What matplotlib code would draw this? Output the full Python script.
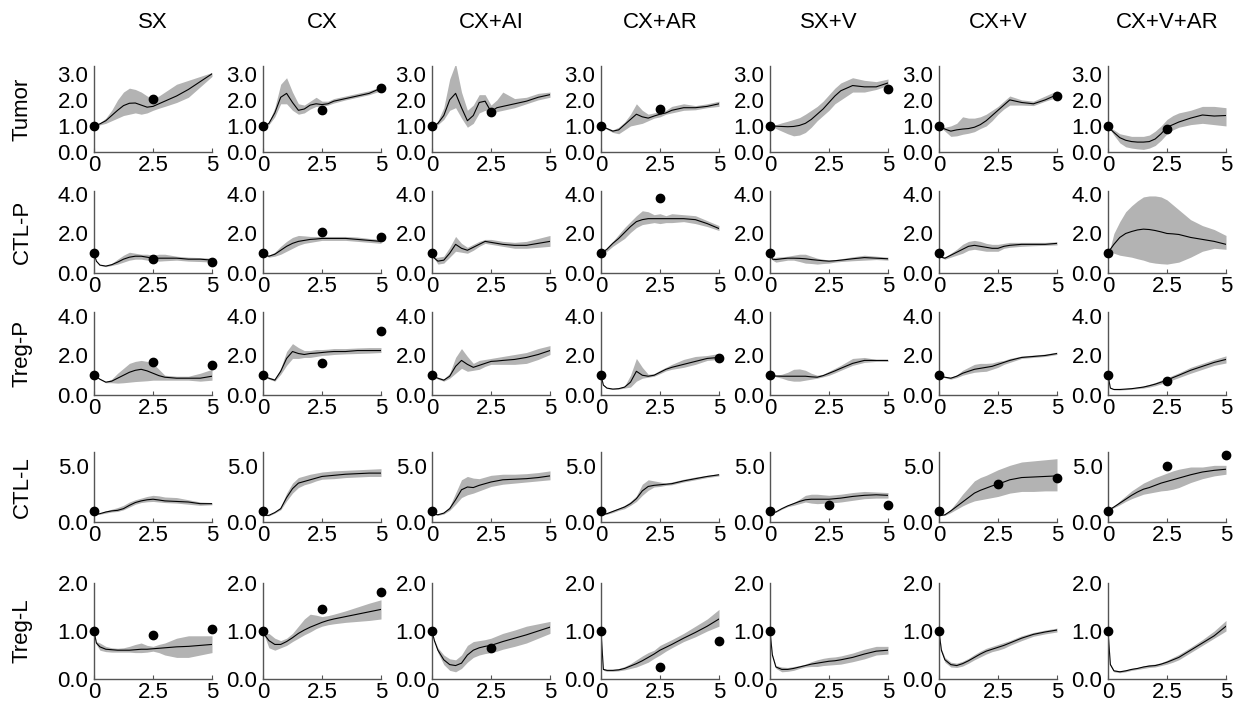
import matplotlib.pyplot as plt

plt.rcParams['font.family'] = ['Liberation Sans', 'DejaVu Sans']

conditions = ["SX", "CX", "CX+AI", "CX+AR", "SX+V", "CX+V", "CX+V+AR"]
cell_types = ["Tumor", "CTL-P", "Treg-P", "CTL-L", "Treg-L"]

# time points of the model curves
t = [0, 0.1, 0.25, 0.5, 0.75, 1.0, 1.25, 1.5, 1.75, 2.0, 2.25, 2.5, 2.75, 3.0, 3.5, 4.0, 4.5, 5.0]

# ---- Tumor ----
tumor_mid = [
    [1.0, 1.03, 1.08, 1.2, 1.4, 1.6, 1.78, 1.87, 1.88, 1.8, 1.72, 1.75, 1.85, 1.95, 2.15, 2.4, 2.7, 3.0],
    [1.0, 1.02, 1.1, 1.5, 2.1, 2.25, 1.9, 1.6, 1.65, 1.8, 1.85, 1.82, 1.85, 1.95, 2.05, 2.15, 2.25, 2.45],
    [1.0, 1.02, 1.1, 1.4, 2.0, 2.25, 1.7, 1.2, 1.4, 1.9, 1.95, 1.55, 1.7, 1.75, 1.85, 1.95, 2.1, 2.2],
    [1.0, 0.97, 0.9, 0.8, 0.85, 1.05, 1.25, 1.45, 1.35, 1.3, 1.38, 1.45, 1.5, 1.6, 1.7, 1.7, 1.75, 1.85],
    [1.0, 1.0, 0.99, 0.98, 0.97, 0.98, 1.02, 1.1, 1.25, 1.45, 1.65, 1.9, 2.15, 2.35, 2.55, 2.5, 2.5, 2.65],
    [1.0, 0.95, 0.88, 0.8, 0.85, 0.88, 0.9, 0.95, 1.05, 1.2, 1.4, 1.6, 1.8, 2.0, 1.9, 1.85, 2.0, 2.2],
    [1.0, 0.88, 0.75, 0.55, 0.45, 0.4, 0.38, 0.38, 0.4, 0.5, 0.7, 0.95, 1.05, 1.15, 1.3, 1.42, 1.38, 1.4],
]
tumor_lo = [
    [1.0, 1.02, 1.04, 1.1, 1.2, 1.3, 1.4, 1.45, 1.5, 1.45, 1.5, 1.6, 1.68, 1.75, 1.9, 2.1, 2.5, 2.9],
    [1.0, 1.01, 1.05, 1.35, 1.85, 1.85, 1.6, 1.45, 1.5, 1.65, 1.75, 1.75, 1.8, 1.88, 2.0, 2.1, 2.2, 2.35],
    [1.0, 1.01, 1.05, 1.25, 1.6, 1.7, 1.3, 0.95, 1.1, 1.5, 1.6, 1.45, 1.55, 1.6, 1.7, 1.85, 2.0, 2.1],
    [1.0, 0.96, 0.87, 0.75, 0.7, 0.85, 1.0, 1.05, 1.1, 1.2, 1.3, 1.35, 1.45, 1.5, 1.6, 1.62, 1.7, 1.75],
    [1.0, 0.97, 0.9, 0.8, 0.7, 0.62, 0.65, 0.75, 0.95, 1.2, 1.4, 1.6, 1.85, 2.0, 2.3, 2.3, 2.4, 2.55],
    [1.0, 0.92, 0.8, 0.6, 0.62, 0.68, 0.72, 0.78, 0.9, 1.0, 1.2, 1.45, 1.65, 1.8, 1.8, 1.78, 1.95, 2.1],
    [1.0, 0.85, 0.65, 0.35, 0.2, 0.15, 0.12, 0.1, 0.15, 0.25, 0.45, 0.7, 0.85, 0.95, 1.05, 1.1, 1.05, 1.0],
]
tumor_hi = [
    [1.0, 1.05, 1.12, 1.3, 1.6, 2.0, 2.3, 2.45, 2.4, 2.3, 2.15, 2.05, 2.15, 2.3, 2.6, 2.75, 2.9, 3.05],
    [1.0, 1.03, 1.15, 1.7, 2.6, 2.85, 2.3, 1.85, 1.8, 1.95, 2.1, 1.95, 1.95, 2.05, 2.15, 2.25, 2.35, 2.5],
    [1.0, 1.03, 1.2, 1.7, 2.8, 3.4, 2.3, 1.6, 1.8, 2.2, 2.2, 1.8, 2.0, 2.3, 2.05, 2.1, 2.25, 2.3],
    [1.0, 0.98, 0.93, 0.85, 0.95, 1.15, 1.45, 1.85, 1.6, 1.45, 1.5, 1.55, 1.6, 1.75, 1.85, 1.78, 1.85, 1.95],
    [1.0, 1.02, 1.05, 1.12, 1.18, 1.25, 1.32, 1.45, 1.6, 1.75, 1.95, 2.2, 2.45, 2.65, 2.85, 2.75, 2.7, 2.8],
    [1.0, 0.97, 0.95, 1.0, 1.1, 1.35, 1.3, 1.3, 1.35, 1.45, 1.6, 1.75, 1.95, 2.15, 2.0, 1.95, 2.15, 2.35],
    [1.0, 0.92, 0.85, 0.7, 0.65, 0.6, 0.6, 0.6, 0.65, 0.8, 1.0, 1.25, 1.4, 1.5, 1.6, 1.75, 1.75, 1.7],
]
tumor_dots = [
    [(0, 1.0), (2.5, 2.05)],
    [(0, 1.0), (2.5, 1.6), (5, 2.45)],
    [(0, 1.0), (2.5, 1.55)],
    [(0, 1.0), (2.5, 1.65)],
    [(0, 1.0), (5, 2.4)],
    [(0, 1.0), (5, 2.15)],
    [(0, 1.0), (2.5, 0.9)],
]

# ---- CTL-P ----
ctlp_mid = [
    [1.0, 0.6, 0.4, 0.35, 0.42, 0.55, 0.7, 0.8, 0.85, 0.85, 0.8, 0.75, 0.75, 0.75, 0.75, 0.7, 0.7, 0.65],
    [1.0, 0.9, 0.85, 0.95, 1.15, 1.35, 1.5, 1.6, 1.65, 1.7, 1.72, 1.75, 1.75, 1.75, 1.75, 1.7, 1.65, 1.6],
    [1.0, 0.75, 0.6, 0.65, 1.0, 1.45, 1.25, 1.15, 1.3, 1.45, 1.6, 1.55, 1.5, 1.45, 1.4, 1.4, 1.5, 1.6],
    [1.0, 1.08, 1.2, 1.5, 1.75, 2.05, 2.35, 2.6, 2.7, 2.75, 2.75, 2.75, 2.75, 2.75, 2.75, 2.7, 2.5, 2.25],
    [1.0, 0.7, 0.68, 0.72, 0.75, 0.75, 0.74, 0.72, 0.68, 0.65, 0.62, 0.6, 0.62, 0.65, 0.72, 0.78, 0.75, 0.72],
    [1.0, 0.8, 0.75, 0.9, 1.05, 1.2, 1.35, 1.4, 1.35, 1.3, 1.25, 1.25, 1.35, 1.4, 1.45, 1.45, 1.45, 1.5],
    [1.0, 1.2, 1.45, 1.8, 2.0, 2.1, 2.18, 2.22, 2.2, 2.15, 2.08, 2.0, 1.98, 1.95, 1.8, 1.7, 1.6, 1.45],
]
ctlp_lo = [
    [1.0, 0.58, 0.38, 0.32, 0.38, 0.45, 0.55, 0.65, 0.7, 0.7, 0.65, 0.6, 0.6, 0.62, 0.65, 0.6, 0.58, 0.55],
    [1.0, 0.88, 0.8, 0.85, 0.95, 1.1, 1.25, 1.4, 1.5, 1.55, 1.6, 1.65, 1.65, 1.65, 1.65, 1.6, 1.55, 1.5],
    [1.0, 0.72, 0.45, 0.5, 0.8, 1.1, 1.05, 1.0, 1.15, 1.35, 1.5, 1.45, 1.4, 1.35, 1.25, 1.25, 1.3, 1.35],
    [1.0, 1.05, 1.1, 1.35, 1.55, 1.75, 2.05, 2.3, 2.45, 2.5, 2.55, 2.5, 2.55, 2.55, 2.6, 2.5, 2.35, 2.15],
    [1.0, 0.65, 0.55, 0.6, 0.65, 0.65, 0.58, 0.5, 0.48, 0.45, 0.48, 0.5, 0.55, 0.58, 0.62, 0.65, 0.68, 0.65],
    [1.0, 0.78, 0.7, 0.8, 0.9, 1.0, 1.15, 1.2, 1.15, 1.1, 1.1, 1.1, 1.25, 1.3, 1.35, 1.38, 1.4, 1.42],
    [1.0, 1.1, 1.0, 0.9, 0.85, 0.8, 0.72, 0.65, 0.55, 0.5, 0.47, 0.45, 0.5, 0.55, 0.8, 1.1, 1.25, 1.2],
]
ctlp_hi = [
    [1.0, 0.62, 0.42, 0.38, 0.48, 0.7, 0.9, 1.05, 1.0, 0.95, 0.95, 0.9, 0.95, 0.95, 0.85, 0.8, 0.78, 0.75],
    [1.0, 0.92, 0.9, 1.05, 1.35, 1.6, 1.8, 1.9, 1.88, 1.85, 1.85, 1.85, 1.85, 1.85, 1.85, 1.82, 1.75, 1.7],
    [1.0, 0.8, 0.8, 0.85, 1.3, 1.85, 1.5, 1.3, 1.45, 1.6, 1.7, 1.7, 1.65, 1.6, 1.55, 1.6, 1.75, 1.9],
    [1.0, 1.1, 1.3, 1.6, 1.95, 2.3, 2.6, 2.9, 3.15, 3.1, 2.95, 3.0, 2.9, 3.0, 2.95, 2.9, 2.65, 2.4],
    [1.0, 0.75, 0.8, 0.82, 0.85, 0.9, 0.95, 0.95, 0.85, 0.75, 0.7, 0.65, 0.68, 0.72, 0.82, 0.9, 0.85, 0.8],
    [1.0, 0.82, 0.8, 1.0, 1.2, 1.45, 1.6, 1.65, 1.6, 1.5, 1.45, 1.45, 1.5, 1.55, 1.55, 1.55, 1.55, 1.58],
    [1.0, 1.3, 2.0, 2.6, 3.1, 3.4, 3.65, 3.85, 3.9, 3.9, 3.85, 3.7, 3.45, 3.2, 2.7, 2.4, 2.2, 1.9],
]
ctlp_dots = [
    [(0, 1.0), (2.5, 0.7), (5, 0.55)],
    [(0, 1.0), (2.5, 2.1), (5, 1.8)],
    [(0, 1.0)],
    [(0, 1.0), (2.5, 3.8)],
    [(0, 1.0)],
    [(0, 1.0)],
    [(0, 1.0)],
]

# ---- Treg-P ----
tregp_mid = [
    [1.0, 0.92, 0.8, 0.65, 0.7, 0.85, 1.0, 1.15, 1.25, 1.3, 1.22, 1.1, 0.98, 0.9, 0.85, 0.85, 0.85, 0.95],
    [1.0, 0.92, 0.85, 0.75, 1.2, 1.85, 2.2, 2.1, 2.05, 2.1, 2.12, 2.15, 2.18, 2.2, 2.2, 2.25, 2.25, 2.25],
    [1.0, 0.92, 0.85, 0.75, 0.95, 1.45, 1.75, 1.55, 1.4, 1.5, 1.6, 1.7, 1.72, 1.75, 1.8, 1.9, 2.05, 2.25],
    [1.0, 0.5, 0.35, 0.3, 0.32, 0.4, 0.65, 1.2, 1.0, 0.95, 1.0, 1.15, 1.3, 1.4, 1.55, 1.7, 1.85, 1.9],
    [1.0, 0.98, 0.96, 0.95, 0.95, 0.95, 0.95, 0.95, 0.92, 0.9, 0.98, 1.1, 1.22, 1.35, 1.6, 1.75, 1.75, 1.75],
    [1.0, 0.95, 0.9, 0.85, 0.95, 1.1, 1.2, 1.3, 1.35, 1.4, 1.45, 1.55, 1.65, 1.75, 1.9, 1.95, 2.0, 2.1],
    [1.0, 0.35, 0.28, 0.28, 0.3, 0.32, 0.36, 0.4, 0.47, 0.55, 0.65, 0.75, 0.88, 1.0, 1.25, 1.45, 1.65, 1.8],
]
tregp_lo = [
    [1.0, 0.9, 0.78, 0.62, 0.62, 0.6, 0.62, 0.65, 0.68, 0.7, 0.72, 0.75, 0.75, 0.75, 0.75, 0.75, 0.7, 0.75],
    [1.0, 0.9, 0.8, 0.7, 1.05, 1.5, 1.85, 1.85, 1.9, 1.9, 1.95, 2.0, 2.02, 2.05, 2.08, 2.1, 2.12, 2.15],
    [1.0, 0.9, 0.8, 0.7, 0.85, 1.1, 1.35, 1.2, 1.25, 1.3, 1.45, 1.55, 1.55, 1.55, 1.55, 1.6, 1.8, 2.05],
    [1.0, 0.48, 0.33, 0.28, 0.3, 0.35, 0.4, 0.7, 0.85, 0.9, 0.95, 1.08, 1.22, 1.3, 1.4, 1.55, 1.75, 1.8],
    [1.0, 0.97, 0.92, 0.85, 0.75, 0.7, 0.7, 0.75, 0.8, 0.85, 0.92, 1.0, 1.12, 1.25, 1.5, 1.65, 1.7, 1.7],
    [1.0, 0.93, 0.87, 0.8, 0.88, 1.0, 1.08, 1.15, 1.18, 1.2, 1.3, 1.4, 1.55, 1.65, 1.85, 1.9, 1.95, 2.05],
    [1.0, 0.33, 0.26, 0.25, 0.27, 0.29, 0.32, 0.35, 0.4, 0.47, 0.56, 0.65, 0.77, 0.88, 1.1, 1.3, 1.5, 1.62],
]
tregp_hi = [
    [1.0, 0.94, 0.82, 0.68, 0.8, 1.1, 1.35, 1.6, 1.7, 1.75, 1.7, 1.6, 1.3, 1.0, 0.95, 0.95, 1.1, 1.3],
    [1.0, 0.94, 0.9, 0.82, 1.35, 2.2, 2.6, 2.4, 2.25, 2.25, 2.3, 2.3, 2.32, 2.35, 2.35, 2.38, 2.4, 2.4],
    [1.0, 0.94, 0.9, 0.82, 1.1, 1.9, 2.35, 1.95, 1.6, 1.75, 1.8, 1.85, 1.9, 1.95, 2.05, 2.15, 2.35, 2.5],
    [1.0, 0.52, 0.37, 0.32, 0.35, 0.45, 1.0, 1.85, 1.4, 1.05, 1.08, 1.25, 1.4, 1.55, 1.8, 1.95, 2.0, 2.1],
    [1.0, 0.99, 1.0, 1.05, 1.15, 1.3, 1.32, 1.25, 1.1, 1.0, 1.05, 1.2, 1.35, 1.5, 1.85, 1.9, 1.8, 1.8],
    [1.0, 0.97, 0.93, 0.9, 1.02, 1.25, 1.4, 1.55, 1.6, 1.6, 1.62, 1.7, 1.75, 1.85, 1.97, 2.02, 2.07, 2.17],
    [1.0, 0.37, 0.3, 0.31, 0.33, 0.36, 0.4, 0.46, 0.54, 0.63, 0.75, 0.86, 1.0, 1.12, 1.4, 1.6, 1.8, 1.98],
]
tregp_dots = [
    [(0, 1.0), (2.5, 1.65), (5, 1.5)],
    [(0, 1.0), (2.5, 1.6), (5, 3.25)],
    [(0, 1.0)],
    [(0, 1.0), (5, 1.85)],
    [(0, 1.0)],
    [(0, 1.0)],
    [(0, 1.0), (2.5, 0.7)],
]

# ---- CTL-L ----
ctll_mid = [
    [1.0, 0.7, 0.75, 0.9, 1.0, 1.05, 1.2, 1.5, 1.75, 1.9, 2.0, 2.05, 1.98, 1.9, 1.85, 1.8, 1.65, 1.65],
    [1.0, 0.6, 0.6, 0.85, 1.2, 2.2, 3.0, 3.5, 3.65, 3.8, 3.95, 4.1, 4.15, 4.2, 4.3, 4.35, 4.4, 4.4],
    [1.0, 0.7, 0.65, 0.8, 1.2, 2.0, 2.9, 3.15, 3.1, 3.3, 3.45, 3.6, 3.7, 3.8, 3.85, 3.9, 4.0, 4.15],
    [1.0, 0.7, 0.75, 0.95, 1.15, 1.35, 1.65, 2.1, 2.8, 3.2, 3.3, 3.35, 3.4, 3.45, 3.7, 3.9, 4.1, 4.25],
    [1.0, 0.85, 0.9, 1.2, 1.45, 1.65, 1.85, 2.0, 2.05, 2.05, 2.05, 2.05, 2.1, 2.15, 2.3, 2.4, 2.45, 2.4],
    [1.0, 0.6, 0.65, 1.0, 1.4, 1.8, 2.2, 2.6, 2.85, 3.05, 3.25, 3.4, 3.6, 3.8, 4.0, 4.05, 4.1, 4.15],
    [1.0, 1.15, 1.35, 1.7, 2.05, 2.4, 2.7, 2.95, 3.1, 3.3, 3.5, 3.65, 3.8, 3.95, 4.25, 4.5, 4.65, 4.75],
]
ctll_lo = [
    [1.0, 0.68, 0.7, 0.8, 0.9, 0.95, 1.1, 1.35, 1.6, 1.75, 1.82, 1.85, 1.8, 1.75, 1.7, 1.6, 1.5, 1.55],
    [1.0, 0.58, 0.55, 0.8, 1.1, 1.9, 2.6, 3.1, 3.35, 3.5, 3.7, 3.85, 3.88, 3.9, 4.0, 4.05, 4.1, 4.1],
    [1.0, 0.68, 0.6, 0.72, 1.05, 1.6, 2.2, 2.45, 2.6, 2.8, 3.0, 3.2, 3.3, 3.4, 3.5, 3.6, 3.7, 3.8],
    [1.0, 0.68, 0.7, 0.85, 1.05, 1.2, 1.5, 1.85, 2.4, 2.85, 3.15, 3.2, 3.3, 3.35, 3.6, 3.8, 4.0, 4.15],
    [1.0, 0.83, 0.87, 1.15, 1.38, 1.5, 1.65, 1.8, 1.7, 1.65, 1.68, 1.7, 1.75, 1.8, 1.95, 2.1, 2.15, 2.15],
    [1.0, 0.58, 0.6, 0.85, 1.15, 1.45, 1.7, 1.9, 2.0, 2.1, 2.2, 2.3, 2.45, 2.6, 2.75, 2.75, 2.8, 2.8],
    [1.0, 1.12, 1.28, 1.55, 1.85, 2.1, 2.3, 2.5, 2.6, 2.7, 2.8, 2.85, 2.95, 3.1, 3.55, 3.9, 4.15, 4.3],
]
ctll_hi = [
    [1.0, 0.72, 0.8, 1.0, 1.15, 1.3, 1.5, 1.8, 2.0, 2.15, 2.3, 2.4, 2.35, 2.25, 2.2, 2.0, 1.8, 1.75],
    [1.0, 0.62, 0.65, 0.9, 1.35, 2.6, 3.5, 4.0, 4.15, 4.3, 4.4, 4.5, 4.55, 4.6, 4.65, 4.7, 4.75, 4.8],
    [1.0, 0.72, 0.7, 0.88, 1.4, 2.6, 3.8, 4.1, 3.95, 3.9, 4.05, 4.2, 4.25, 4.3, 4.3, 4.35, 4.45, 4.6],
    [1.0, 0.72, 0.8, 1.05, 1.25, 1.5, 1.85, 2.35, 3.4, 3.8, 3.7, 3.6, 3.5, 3.6, 3.85, 4.05, 4.2, 4.35],
    [1.0, 0.87, 0.93, 1.25, 1.52, 1.75, 2.05, 2.4, 2.5, 2.5, 2.45, 2.4, 2.45, 2.5, 2.65, 2.75, 2.7, 2.65],
    [1.0, 0.62, 0.7, 1.15, 1.8, 2.5, 3.1, 3.7, 4.0, 4.2, 4.45, 4.7, 4.9, 5.1, 5.4, 5.5, 5.6, 5.7],
    [1.0, 1.18, 1.42, 1.9, 2.35, 2.8, 3.15, 3.5, 3.75, 4.0, 4.2, 4.4, 4.6, 4.75, 4.95, 4.95, 5.1, 5.1],
]
ctll_dots = [
    [(0, 1.0)],
    [(0, 1.0)],
    [(0, 1.0)],
    [(0, 1.0)],
    [(0, 1.0), (2.5, 1.55), (5, 1.5)],
    [(0, 1.0), (2.5, 3.45), (5, 4.0)],
    [(0, 1.0), (2.5, 5.0), (5, 6.0)],
]

# ---- Treg-L ----
tregl_mid = [
    [1.0, 0.75, 0.67, 0.62, 0.61, 0.6, 0.6, 0.6, 0.61, 0.62, 0.62, 0.63, 0.64, 0.65, 0.67, 0.68, 0.7, 0.72],
    [1.0, 0.9, 0.8, 0.72, 0.72, 0.78, 0.86, 0.95, 1.02, 1.08, 1.13, 1.18, 1.22, 1.25, 1.3, 1.35, 1.4, 1.45],
    [1.0, 0.8, 0.6, 0.4, 0.3, 0.28, 0.33, 0.5, 0.6, 0.65, 0.68, 0.7, 0.74, 0.78, 0.85, 0.92, 1.0, 1.08],
    [1.0, 0.2, 0.18, 0.18, 0.19, 0.22, 0.27, 0.32, 0.38, 0.45, 0.52, 0.6, 0.66, 0.72, 0.85, 0.97, 1.1, 1.25],
    [1.0, 0.5, 0.25, 0.2, 0.2, 0.22, 0.25, 0.28, 0.31, 0.33, 0.35, 0.37, 0.38, 0.4, 0.45, 0.52, 0.58, 0.6],
    [1.0, 0.6, 0.4, 0.3, 0.28, 0.32, 0.38, 0.45, 0.52, 0.58, 0.62, 0.66, 0.7, 0.75, 0.85, 0.93, 0.98, 1.02],
    [1.0, 0.3, 0.17, 0.15, 0.17, 0.2, 0.22, 0.25, 0.27, 0.28, 0.31, 0.35, 0.4, 0.45, 0.6, 0.75, 0.9, 1.1],
]
tregl_lo = [
    [1.0, 0.72, 0.6, 0.57, 0.56, 0.56, 0.56, 0.56, 0.55, 0.55, 0.56, 0.58, 0.55, 0.5, 0.45, 0.45, 0.5, 0.55],
    [1.0, 0.85, 0.65, 0.6, 0.65, 0.7, 0.78, 0.85, 0.92, 0.98, 1.05, 1.1, 1.13, 1.15, 1.18, 1.2, 1.22, 1.25],
    [1.0, 0.78, 0.55, 0.3, 0.18, 0.15, 0.22, 0.35, 0.45, 0.5, 0.53, 0.55, 0.58, 0.62, 0.68, 0.75, 0.85, 0.95],
    [1.0, 0.18, 0.16, 0.16, 0.17, 0.19, 0.22, 0.25, 0.3, 0.35, 0.43, 0.5, 0.58, 0.65, 0.78, 0.88, 1.0, 1.1],
    [1.0, 0.48, 0.22, 0.15, 0.16, 0.18, 0.22, 0.25, 0.26, 0.26, 0.28, 0.29, 0.3, 0.31, 0.36, 0.42, 0.5, 0.52],
    [1.0, 0.57, 0.35, 0.25, 0.24, 0.27, 0.33, 0.4, 0.46, 0.52, 0.57, 0.6, 0.64, 0.7, 0.8, 0.89, 0.94, 0.98],
    [1.0, 0.28, 0.15, 0.13, 0.15, 0.18, 0.2, 0.22, 0.24, 0.25, 0.28, 0.31, 0.35, 0.4, 0.55, 0.7, 0.85, 1.0],
]
tregl_hi = [
    [1.0, 0.78, 0.75, 0.68, 0.65, 0.64, 0.65, 0.68, 0.72, 0.75, 0.7, 0.68, 0.72, 0.75, 0.85, 0.9, 0.9, 0.9],
    [1.0, 0.95, 0.95, 0.85, 0.8, 0.85, 0.95, 1.1, 1.25, 1.35, 1.33, 1.3, 1.32, 1.35, 1.42, 1.5, 1.58, 1.65],
    [1.0, 0.82, 0.65, 0.5, 0.42, 0.4, 0.5, 0.7, 0.78, 0.8, 0.82, 0.85, 0.9, 0.95, 1.02, 1.1, 1.15, 1.2],
    [1.0, 0.22, 0.2, 0.2, 0.22, 0.26, 0.32, 0.4, 0.48, 0.55, 0.6, 0.7, 0.76, 0.82, 0.95, 1.1, 1.25, 1.45],
    [1.0, 0.52, 0.28, 0.25, 0.24, 0.26, 0.28, 0.31, 0.36, 0.4, 0.43, 0.45, 0.46, 0.48, 0.54, 0.62, 0.68, 0.68],
    [1.0, 0.63, 0.45, 0.35, 0.33, 0.37, 0.43, 0.51, 0.58, 0.64, 0.68, 0.72, 0.76, 0.8, 0.9, 0.97, 1.02, 1.06],
    [1.0, 0.32, 0.19, 0.17, 0.19, 0.22, 0.24, 0.27, 0.3, 0.31, 0.34, 0.39, 0.45, 0.51, 0.66, 0.82, 1.0, 1.22],
]
tregl_dots = [
    [(0, 1.0), (2.5, 0.92), (5, 1.05)],
    [(0, 1.0), (2.5, 1.45), (5, 1.82)],
    [(0, 1.0), (2.5, 0.65)],
    [(0, 1.0), (2.5, 0.25), (5, 0.8)],
    [(0, 1.0)],
    [(0, 1.0)],
    [(0, 1.0)],
]

row_mid = [tumor_mid, ctlp_mid, tregp_mid, ctll_mid, tregl_mid]
row_lo = [tumor_lo, ctlp_lo, tregp_lo, ctll_lo, tregl_lo]
row_hi = [tumor_hi, ctlp_hi, tregp_hi, ctll_hi, tregl_hi]
row_dots = [tumor_dots, ctlp_dots, tregp_dots, ctll_dots, tregl_dots]
y_top = [3.3, 4.15, 4.2, 6.3, 2.0]
y_ticks = [[0, 1, 2, 3], [0, 2, 4], [0, 2, 4], [0, 5], [0, 1, 2]]

# layout in pixels (y measured from the top of the image)
W, H = 1241, 710
col_left, col_step, ax_w = 94, 169, 118
row_bottom = [152, 273, 395, 522, 679]
row_top = [66, 191, 312, 452, 583]
FS = 16

fig = plt.figure(figsize=(W / 100, H / 100), dpi=100)

for i, ct in enumerate(cell_types):
    for j, cond in enumerate(conditions):
        left = (col_left + j * col_step) / W
        bottom = 1 - row_bottom[i] / H
        height = (row_bottom[i] - row_top[i]) / H
        ax = fig.add_axes([left, bottom, ax_w / W, height])

        ax.fill_between(t, row_lo[i][j], row_hi[i][j], color="#b3b3b3", lw=0)
        ax.plot(t, row_mid[i][j], color="black", lw=0.8)
        dx = [p[0] for p in row_dots[i][j]]
        dy = [p[1] for p in row_dots[i][j]]
        ax.plot(dx, dy, "o", color="black", ms=6, clip_on=False, zorder=5)

        ax.set_xlim(0, 5)
        ax.set_ylim(0, y_top[i])
        ax.set_xticks([0, 2.5, 5])
        ax.set_xticklabels(["0", "2.5", "5"])
        ax.set_yticks(y_ticks[i])
        ax.set_yticklabels([f"{v:.1f}" for v in y_ticks[i]])
        ax.tick_params(axis="x", direction="in", length=3, width=0.8,
                       color="#555555", labelsize=FS, pad=2)
        ax.tick_params(axis="y", length=0, labelsize=FS, pad=4)
        for s in ["top", "right"]:
            ax.spines[s].set_visible(False)
        for s in ["left", "bottom"]:
            ax.spines[s].set_color("#555555")
            ax.spines[s].set_linewidth(1.0)

        if i == 0:
            fig.text(left + ax_w / W / 2, 1 - 22 / H, cond, fontsize=FS,
                     ha="center", va="center")
        if j == 0:
            yc = 1 - (row_bottom[i] + row_top[i]) / 2 / H
            fig.text(22 / W, yc, ct, fontsize=FS, rotation=90,
                     ha="center", va="center")

fig.savefig("out.png", dpi=100)
